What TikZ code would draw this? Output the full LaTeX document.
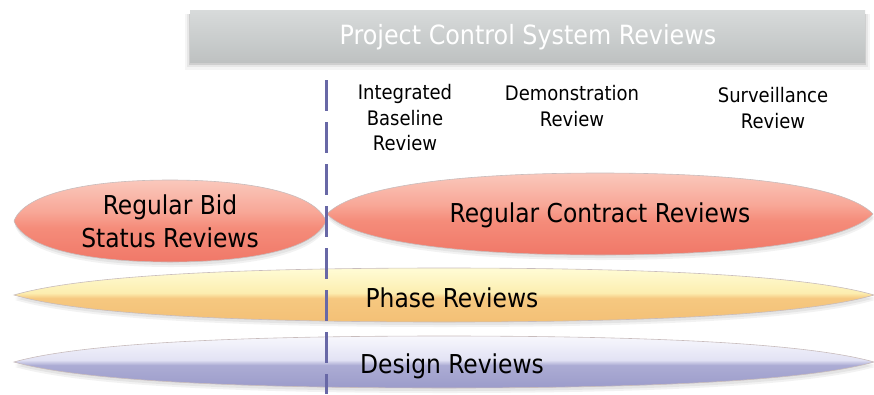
\documentclass[tikz,border=0pt]{standalone}
\usepackage{fontspec}
\setmainfont{DejaVu Sans Condensed}
\usetikzlibrary{calc}
\definecolor{dashc}{RGB}{104,104,166}
\definecolor{redT}{RGB}{250,200,188}
\definecolor{redH}{RGB}{248,168,152}
\definecolor{redM}{RGB}{245,140,122}
\definecolor{redB}{RGB}{240,120,104}
\definecolor{yelT}{RGB}{255,252,214}
\definecolor{yelH}{RGB}{252,238,176}
\definecolor{yelM}{RGB}{246,200,128}
\definecolor{yelB}{RGB}{243,192,118}
\definecolor{bluT}{RGB}{248,248,253}
\definecolor{bluH}{RGB}{226,226,244}
\definecolor{bluM}{RGB}{172,172,212}
\definecolor{bluB}{RGB}{156,156,202}
\definecolor{barT}{RGB}{216,219,219}
\definecolor{barB}{RGB}{190,193,193}
\definecolor{edgec}{RGB}{200,188,188}
\pgfdeclareverticalshading{redsh}{100bp}{color(0bp)=(redB); color(25bp)=(redB); color(46bp)=(redM); color(56bp)=(redH); color(75bp)=(redT); color(100bp)=(redT)}
\pgfdeclareverticalshading{yelsh}{100bp}{color(0bp)=(yelB); color(25bp)=(yelB); color(47bp)=(yelM); color(52bp)=(yelH); color(75bp)=(yelT); color(100bp)=(yelT)}
\pgfdeclareverticalshading{blush}{100bp}{color(0bp)=(bluB); color(25bp)=(bluB); color(47bp)=(bluM); color(52bp)=(bluH); color(75bp)=(bluT); color(100bp)=(bluT)}
% centre x, centre y, half width, half height, tip sharpness (0..1, smaller = sharper)
\newcommand{\lenspath}[5]{%
  (#1-#3,#2) .. controls (#1-#5*#3,#2-0.7*#4) and (#1-0.5*#3,#2-#4) .. (#1,#2-#4)
  .. controls (#1+0.5*#3,#2-#4) and (#1+#5*#3,#2-0.7*#4) .. (#1+#3,#2)
  .. controls (#1+#5*#3,#2+0.7*#4) and (#1+0.5*#3,#2+#4) .. (#1,#2+#4)
  .. controls (#1-0.5*#3,#2+#4) and (#1-#5*#3,#2+0.7*#4) .. (#1-#3,#2) -- cycle}
\newcommand{\mylens}[6]{%
  \fill[black,opacity=0.05] \lenspath{#1+1}{#2+5}{#3}{#4}{#6};
  \fill[black,opacity=0.06] \lenspath{#1+1}{#2+3}{#3}{#4}{#6};
  \shade[shading=#5sh] \lenspath{#1}{#2}{#3}{#4}{#6};
  \draw[edgec, line width=0.6pt] \lenspath{#1}{#2}{#3}{#4}{#6};}
\tikzset{
  big/.style={font=\fontsize{26}{33}\selectfont, text=black, align=center, inner sep=0pt},
  small/.style={font=\fontsize{20}{25.5}\selectfont, text=black, align=center, inner sep=0pt},
  divider/.style={dashc, line width=3pt, dash pattern=on 31pt off 11pt}
}
\begin{document}
\begin{tikzpicture}[x=1pt,y=-1pt]
\useasboundingbox (0,0) rectangle (874,394);
% top bar with soft shadow
\fill[black,opacity=0.04] (185,14) rectangle (870,70);
\fill[black,opacity=0.06] (187,14) rectangle (868,67);
\fill[black,opacity=0.10] (189,14) rectangle (866,65);
\shade[top color=barT, bottom color=barB] (190,10) rectangle (865,62);
\node[font=\fontsize{26.5}{30}\selectfont, text=white, inner sep=0pt] (pcsr) at (528,37) {Project Control System Reviews};
% column labels
\node[small] (ibr) at (405,118) {Integrated\\Baseline\\Review};
\node[small] (dr) at (572,106) {Demonstration\\Review};
\node[small] (sr) at (773,108) {Surveillance\\Review};
% lenses
\mylens{444}{362}{430}{26}{blu}{0.85}
\mylens{444}{295}{430}{27}{yel}{0.85}
\mylens{170}{221}{156}{41}{red}{0.93}
\mylens{600}{214}{273}{41}{red}{0.9}
\node[big] (bid) at (170,221) {Regular Bid\\Status Reviews};
\node[big] (crv) at (600,215) {Regular Contract Reviews};
\node[big] (phase) at (452,298) {Phase Reviews};
\node[big] (design) at (452,366) {Design Reviews};
% divider
\coordinate (dtop) at (326,80);
\coordinate (dbot) at (326,394);
\draw[divider] (dtop) -- (dbot);
\end{tikzpicture}
\end{document}
